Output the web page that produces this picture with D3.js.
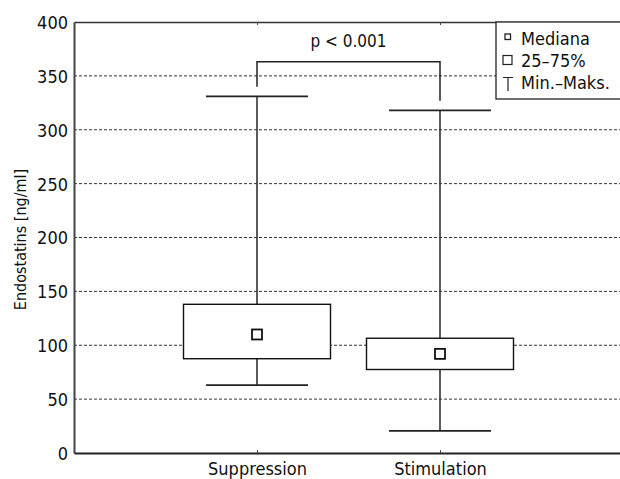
<!DOCTYPE html>
<html>
<head>
<meta charset="utf-8">
<script src="https://cdn.jsdelivr.net/npm/d3@7"></script>
<style>
  body { margin: 0; background: #fff; }
  text { font-family: "DejaVu Sans", sans-serif; font-stretch: condensed; fill: #111; }
</style>
</head>
<body>
<svg width="620" height="479"></svg>
<script>
// data
var categories = ["Suppression", "Stimulation"];
var medians = [110, 92];
var q1 = [87.5, 77.5];
var q3 = [138, 106.5];
var mins = [63, 20.5];
var maxs = [331, 318];
var yTicks = [0, 50, 100, 150, 200, 250, 300, 350, 400];
var bracketTop = 363;
var bracketEnds = [340, 327];
var pLabel = "p < 0.001";
var legendLabels = ["Mediana", "25\u201375%", "Min.\u2013Maks."];

var svg = d3.select("svg");
var margin = { top: 22, right: 0, bottom: 26, left: 74 };
var width = 620 - margin.left - margin.right;
var height = 479 - margin.top - margin.bottom;
var g = svg.append("g").attr("transform", "translate(" + margin.left + "," + margin.top + ")");

var x = d3.scalePoint().domain(categories).range([0, 549]).padding(1);
var y = d3.scaleLinear().domain([0, 400]).range([height, 0]);

var boxW = 147, capW = 102, medS = 10;

// dashed grid
g.append("g")
    .selectAll("line")
    .data(yTicks.filter(function (d) { return d > 0 && d < 400; }))
    .enter().append("line")
    .attr("x1", 0).attr("x2", width)
    .attr("y1", function (d) { return y(d); })
    .attr("y2", function (d) { return y(d); })
    .attr("stroke", "#333")
    .attr("stroke-width", 1)
    .attr("stroke-dasharray", "3,2");

// y axis
var yAxis = g.append("g")
    .call(d3.axisLeft(y).tickValues(yTicks).tickSize(0).tickPadding(6));
yAxis.select(".domain").attr("stroke", "#444").attr("stroke-width", 2);
yAxis.selectAll("text").style("font-size", "18px").attr("dy", "0.36em");

// x axis (bottom) and top frame
var xAxis = g.append("g")
    .attr("transform", "translate(0," + height + ")")
    .call(d3.axisBottom(x).tickSize(-3).tickPadding(9).tickSizeOuter(0));
xAxis.select(".domain").attr("stroke", "#222").attr("stroke-width", 2);
xAxis.selectAll(".tick line").attr("stroke", "#444");
xAxis.selectAll("text").style("font-size", "18px").attr("dy", "0.72em");

var topAxis = g.append("g")
    .call(d3.axisTop(x).tickSize(-3).tickSizeOuter(0).tickFormat(""));
topAxis.select(".domain").attr("stroke", "#333").attr("stroke-width", 1.5);
topAxis.selectAll(".tick line").attr("stroke", "#444");

// y axis title
svg.append("text")
    .attr("transform", "translate(26," + (margin.top + y(200) + 2) + ") rotate(-90)")
    .attr("text-anchor", "middle")
    .style("font-size", "16px")
    .text("Endostatins [ng/ml]");

// boxes
var boxes = g.selectAll(".box")
    .data(categories)
    .enter().append("g")
    .attr("class", "box");

boxes.append("line")
    .attr("x1", function (d) { return x(d); })
    .attr("x2", function (d) { return x(d); })
    .attr("y1", function (d, i) { return y(maxs[i]); })
    .attr("y2", function (d, i) { return y(mins[i]); })
    .attr("stroke", "#333").attr("stroke-width", 1.6);

boxes.append("line")
    .attr("x1", function (d) { return x(d) - capW / 2; })
    .attr("x2", function (d) { return x(d) + capW / 2; })
    .attr("y1", function (d, i) { return y(maxs[i]); })
    .attr("y2", function (d, i) { return y(maxs[i]); })
    .attr("stroke", "#222").attr("stroke-width", 1.6);

boxes.append("line")
    .attr("x1", function (d) { return x(d) - capW / 2; })
    .attr("x2", function (d) { return x(d) + capW / 2; })
    .attr("y1", function (d, i) { return y(mins[i]); })
    .attr("y2", function (d, i) { return y(mins[i]); })
    .attr("stroke", "#222").attr("stroke-width", 1.6);

boxes.append("rect")
    .attr("x", function (d) { return x(d) - boxW / 2; })
    .attr("y", function (d, i) { return y(q3[i]); })
    .attr("width", boxW)
    .attr("height", function (d, i) { return y(q1[i]) - y(q3[i]); })
    .attr("fill", "#fff")
    .attr("stroke", "#111").attr("stroke-width", 1.4);

boxes.append("rect")
    .attr("x", function (d) { return x(d) - medS / 2; })
    .attr("y", function (d, i) { return y(medians[i]) - medS / 2; })
    .attr("width", medS).attr("height", medS)
    .attr("fill", "#fff")
    .attr("stroke", "#111").attr("stroke-width", 1.8);

// significance bracket
var bracket = d3.line()
    .x(function (d) { return x(d[0]); })
    .y(function (d) { return y(d[1]); });
g.append("path")
    .datum([[categories[0], bracketEnds[0]], [categories[0], bracketTop],
            [categories[1], bracketTop], [categories[1], bracketEnds[1]]])
    .attr("fill", "none")
    .attr("stroke", "#222").attr("stroke-width", 1.5)
    .attr("d", bracket);

g.append("text")
    .attr("x", (x(categories[0]) + x(categories[1])) / 2)
    .attr("y", 25)
    .attr("text-anchor", "middle")
    .style("font-size", "17px")
    .text(pLabel);

// legend
var lg = svg.append("g").attr("transform", "translate(496,22)");
lg.append("rect")
    .attr("x", 0).attr("y", 0)
    .attr("width", 140).attr("height", 77)
    .attr("fill", "#fff")
    .attr("stroke", "#222").attr("stroke-width", 1.3);

lg.append("rect")
    .attr("x", 9).attr("y", 12).attr("width", 5.5).attr("height", 5.5)
    .attr("fill", "#fff").attr("stroke", "#222").attr("stroke-width", 1.3);
lg.append("rect")
    .attr("x", 7).attr("y", 33.5).attr("width", 9).attr("height", 9)
    .attr("fill", "#fff").attr("stroke", "#222").attr("stroke-width", 1.2);
// T symbol for min-max
lg.append("path")
    .attr("d", "M7,55.5H17M12,55.5V69")
    .attr("fill", "none")
    .attr("stroke", "#222").attr("stroke-width", 1.2);

lg.selectAll(".lab")
    .data(legendLabels)
    .enter().append("text")
    .attr("class", "lab")
    .attr("x", 25)
    .attr("y", function (d, i) { return 23 + i * 21.8; })
    .style("font-size", "18px")
    .text(function (d) { return d; });
</script>
</body>
</html>
